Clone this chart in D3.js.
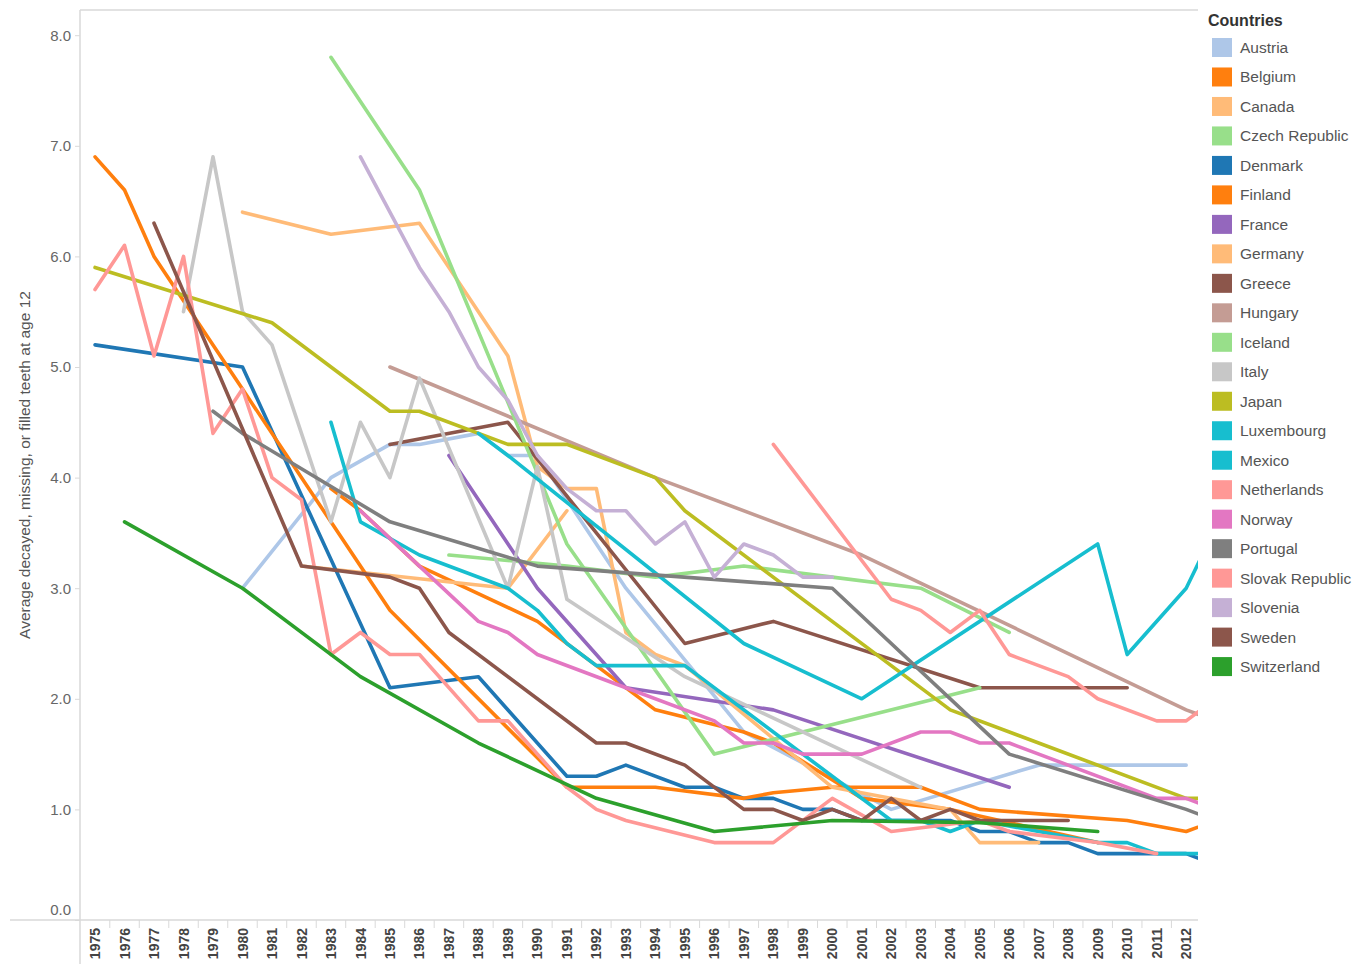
<!DOCTYPE html>
<html>
<head>
<meta charset="utf-8">
<script src="https://cdn.jsdelivr.net/npm/d3@7"></script>
<style>
  html, body { margin: 0; padding: 0; background: #fff; }
  svg { display: block; font-family: Arial, "Liberation Sans", sans-serif; }
</style>
</head>
<body>
<svg id="chart" width="1369" height="964"></svg>
<script>
// ---- tick labels ----
const yearLabels = [1975,1976,1977,1978,1979,1980,1981,1982,1983,1984,1985,1986,1987,1988,1989,1990,1991,1992,1993,1994,1995,1996,1997,1998,1999,2000,2001,2002,2003,2004,2005,2006,2007,2008,2009,2010,2011,2012];
const hiddenYears = [2013]; // continues past the clipped right edge
const yTicks = [0,1,2,3,4,5,6,7,8];

// ---- categories ----
const countries = ["Austria","Belgium","Canada","Czech Republic","Denmark","Finland","France","Germany","Greece","Hungary","Iceland","Italy","Japan","Luxembourg","Mexico","Netherlands","Norway","Portugal","Slovak Republic","Slovenia","Sweden","Switzerland"];
const colors = ["#aec7e8","#ff7f0e","#ffbb78","#98df8a","#1f77b4","#ff7f0e","#9467bd","#ffbb78","#8c564b","#c49c94","#98df8a","#c7c7c7","#bcbd22","#17becf","#17becf","#ff9896","#e377c2","#7f7f7f","#ff9896","#c5b0d5","#8c564b","#2ca02c"];

// ---- series values: [year, DMFT] ----
const austria = [[1980,3.0],[1983,4.0],[1985,4.3],[1986,4.3],[1988,4.4],[1989,4.2],[1990,4.2],[1993,3.0],[1997,1.7],[2002,1.0],[2007,1.4],[2012,1.4]];
const belgium = [[1983,3.9],[1984,3.7],[1986,3.2],[1990,2.7],[1994,1.9],[1997,1.7],[1998,1.6],[2001,1.1],[2004,1.0],[2009,0.7]];
const canada = [[1982,3.2],[1989,3.0],[1991,3.7]];
const czechRepublic = [[1987,3.3],[1991,3.2],[1994,3.1],[1997,3.2],[2000,3.1],[2003,3.0],[2006,2.6]];
const denmark = [[1975,5.2],[1980,5.0],[1985,2.1],[1988,2.2],[1991,1.3],[1992,1.3],[1993,1.4],[1995,1.2],[1996,1.2],[1997,1.1],[1998,1.1],[1999,1.0],[2000,1.0],[2001,0.9],[2004,0.9],[2005,0.8],[2006,0.8],[2007,0.7],[2008,0.7],[2009,0.6],[2012,0.6],[2013,0.5]];
const finland = [[1975,6.9],[1976,6.6],[1977,6.0],[1978,5.6],[1979,5.2],[1980,4.8],[1985,2.8],[1991,1.2],[1994,1.2],[1997,1.1],[1998,1.15],[2000,1.2],[2003,1.2],[2005,1.0],[2010,0.9],[2012,0.8],[2013,0.9]];
const france = [[1987,4.2],[1990,3.0],[1993,2.1],[1998,1.9],[2006,1.2]];
const germany = [[1980,6.4],[1983,6.2],[1986,6.3],[1989,5.1],[1990,4.1],[1991,3.9],[1992,3.9],[1993,2.6],[1994,2.4],[1995,2.3],[2000,1.2],[2004,1.0],[2005,0.7],[2007,0.7]];
const greece = [[1985,4.3],[1989,4.5],[1995,2.5],[1998,2.7],[2005,2.1],[2010,2.1]];
const hungary = [[1985,5.0],[1994,4.0],[2001,3.3],[2012,1.9],[2013,1.8]];
const iceland = [[1983,7.8],[1986,6.6],[1991,3.4],[1996,1.5],[2005,2.1]];
const italy = [[1978,5.5],[1979,6.9],[1980,5.5],[1981,5.2],[1983,3.6],[1984,4.5],[1985,4.0],[1986,4.9],[1989,3.0],[1990,4.1],[1991,2.9],[1995,2.2],[2003,1.2]];
const japan = [[1975,5.9],[1981,5.4],[1985,4.6],[1986,4.6],[1989,4.3],[1991,4.3],[1994,4.0],[1995,3.7],[2004,1.9],[2012,1.1],[2013,1.1]];
const luxembourg = [[1983,4.5],[1984,3.6],[1986,3.3],[1989,3.0],[1990,2.8],[1991,2.5],[1992,2.3],[1995,2.3],[2002,0.9],[2003,0.9],[2004,0.8],[2005,0.9],[2007,0.8],[2009,0.7],[2010,0.7],[2011,0.6],[2012,0.6],[2013,0.6]];
const mexico = [[1988,4.4],[1989,4.2],[1997,2.5],[2001,2.0],[2009,3.4],[2010,2.4],[2012,3.0],[2013,3.55]];
const netherlands = [[1975,5.7],[1976,6.1],[1977,5.1],[1978,6.0],[1979,4.4],[1980,4.8],[1981,4.0],[1982,3.8],[1983,2.4],[1984,2.6],[1985,2.4],[1986,2.4],[1988,1.8],[1989,1.8],[1991,1.2],[1992,1.0],[1993,0.9],[1996,0.7],[1998,0.7],[2000,1.1],[2002,0.8],[2005,0.9],[2006,0.8],[2009,0.7],[2011,0.6]];
const norway = [[1984,3.7],[1986,3.2],[1988,2.7],[1989,2.6],[1990,2.4],[1993,2.1],[1996,1.8],[1997,1.6],[1998,1.6],[1999,1.5],[2001,1.5],[2003,1.7],[2004,1.7],[2005,1.6],[2006,1.6],[2011,1.1],[2012,1.1],[2013,1.0]];
const portugal = [[1979,4.6],[1980,4.4],[1985,3.6],[1990,3.2],[2000,3.0],[2006,1.5],[2012,1.0],[2013,0.9]];
const slovakRepublic = [[1998,4.3],[2002,2.9],[2003,2.8],[2004,2.6],[2005,2.8],[2006,2.4],[2008,2.2],[2009,2.0],[2011,1.8],[2012,1.8],[2013,2.0]];
const slovenia = [[1984,6.9],[1986,5.9],[1987,5.5],[1988,5.0],[1989,4.7],[1990,4.2],[1991,3.9],[1992,3.7],[1993,3.7],[1994,3.4],[1995,3.6],[1996,3.1],[1997,3.4],[1998,3.3],[1999,3.1],[2000,3.1]];
const sweden = [[1977,6.3],[1982,3.2],[1985,3.1],[1986,3.0],[1987,2.6],[1992,1.6],[1993,1.6],[1995,1.4],[1997,1.0],[1998,1.0],[1999,0.9],[2000,1.0],[2001,0.9],[2002,1.1],[2003,0.9],[2004,1.0],[2005,0.9],[2008,0.9]];
const switzerland = [[1976,3.6],[1980,3.0],[1984,2.2],[1988,1.6],[1992,1.1],[1996,0.8],[2000,0.9],[2005,0.88],[2009,0.8]];

const seriesValues = [austria,belgium,canada,czechRepublic,denmark,finland,france,germany,greece,hungary,iceland,italy,japan,luxembourg,mexico,netherlands,norway,portugal,slovakRepublic,slovenia,sweden,switzerland];
const series = countries.map((name, i) => ({ name, color: colors[i], values: seriesValues[i] }));

// ---- layout ----
const svg = d3.select("#chart");
const plotLeft = 80, plotRight = 1198, plotTop = 10, plotBottom = 920;
const step = 29.49;
const allYears = yearLabels.concat(hiddenYears);

const x = d3.scaleBand()
  .domain(allYears)
  .range([plotLeft + 0.3, plotLeft + 0.3 + step * allYears.length])
  .padding(0);
const y = d3.scaleLinear().domain([0, 8]).range([plotBottom, plotBottom - 8 * 110.6]);

const defs = svg.append("defs");
defs.append("clipPath").attr("id", "plotClip")
  .append("rect").attr("x", plotLeft).attr("y", 0).attr("width", plotRight - plotLeft).attr("height", plotBottom);
defs.append("clipPath").attr("id", "axisClip")
  .append("rect").attr("x", plotLeft).attr("y", plotBottom).attr("width", plotRight - plotLeft + 2).attr("height", 964 - plotBottom);

// frame lines
const lineColor = "#d9d9d9";
svg.append("line").attr("x1", plotLeft).attr("x2", plotRight).attr("y1", plotTop).attr("y2", plotTop)
  .attr("stroke", lineColor).attr("stroke-width", 1.5);
svg.append("line").attr("x1", plotLeft).attr("x2", plotLeft).attr("y1", plotTop).attr("y2", 964)
  .attr("stroke", lineColor).attr("stroke-width", 1.5);
svg.append("line").attr("x1", 10).attr("x2", plotRight).attr("y1", plotBottom).attr("y2", plotBottom)
  .attr("stroke", lineColor).attr("stroke-width", 1.5);

// y axis
const yAxis = svg.append("g").attr("transform", `translate(${plotLeft},0)`)
  .call(d3.axisLeft(y).tickValues(yTicks).tickFormat(d3.format(".1f")).tickSize(5).tickPadding(4));
yAxis.select(".domain").remove();
yAxis.selectAll(".tick line").attr("stroke", lineColor);
yAxis.selectAll(".tick text")
  .attr("fill", "#666").style("font-size", "15px").style("font-family", "Arial, 'Liberation Sans', sans-serif")
  .attr("dy", d => d === 0 ? "-0.35em" : "0.32em");

svg.append("text")
  .attr("transform", `translate(30, ${(plotTop + plotBottom) / 2}) rotate(-90)`)
  .attr("text-anchor", "middle")
  .attr("fill", "#555").style("font-size", "15.5px")
  .text("Average decayed, missing, or filled teeth at age 12");

// x axis
const xAxisG = svg.append("g").attr("clip-path", "url(#axisClip)");
const xAxis = xAxisG.append("g").attr("transform", `translate(0,${plotBottom})`)
  .call(d3.axisBottom(x).tickValues(yearLabels).tickSize(0).tickPadding(0));
xAxis.select(".domain").remove();
xAxis.selectAll(".tick text")
  .attr("transform", "rotate(-90)")
  .attr("text-anchor", "end")
  .attr("x", -8).attr("y", 0).attr("dy", "0.36em")
  .attr("fill", "#444").style("font-size", "14px").style("font-weight", "bold")
  .style("font-family", "Arial, 'Liberation Sans', sans-serif");
// band separators
xAxisG.selectAll("line.sep").data(allYears.slice(1)).enter().append("line")
  .attr("class", "sep")
  .attr("x1", d => x(d)).attr("x2", d => x(d))
  .attr("y1", plotBottom).attr("y2", plotBottom + 8)
  .attr("stroke", lineColor).attr("stroke-width", 1);

// lines
const line = d3.line()
  .x(d => x(d[0]) + x.bandwidth() / 2)
  .y(d => y(d[1]));

svg.append("g").attr("clip-path", "url(#plotClip)")
  .selectAll("path").data(series).enter().append("path")
  .attr("d", d => line(d.values))
  .attr("fill", "none")
  .attr("stroke", d => d.color)
  .attr("stroke-width", 3.6)
  .attr("stroke-linejoin", "round")
  .attr("stroke-linecap", "round");

// legend
const legend = svg.append("g").attr("transform", "translate(1208,0)");
legend.append("text").attr("x", 0).attr("y", 26)
  .attr("fill", "#333").style("font-size", "16px").style("font-weight", "bold")
  .text("Countries");
const item = legend.selectAll("g.item").data(series).enter().append("g")
  .attr("class", "item")
  .attr("transform", (d, i) => `translate(0, ${47.5 + i * 29.48})`);
item.append("rect").attr("x", 4).attr("y", -9.5).attr("width", 20).attr("height", 19)
  .attr("fill", d => d.color);
item.append("text").attr("x", 32).attr("y", 0).attr("dy", "0.35em")
  .attr("fill", "#555").style("font-size", "15.5px")
  .text(d => d.name);
</script>
</body>
</html>
